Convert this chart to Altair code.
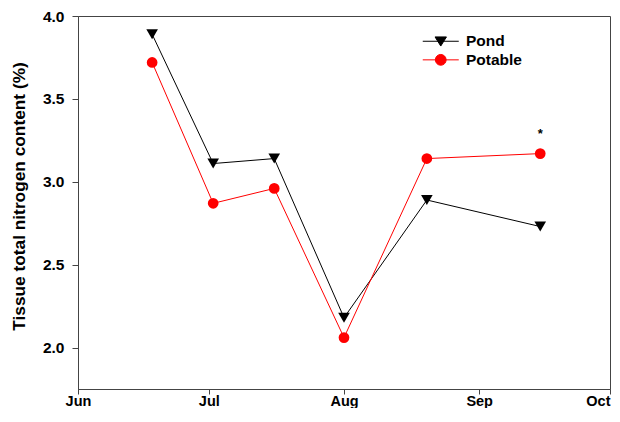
import altair as alt
import pandas as pd

# ---- data ----
dates = ["2014-06-18", "2014-07-02", "2014-07-16", "2014-08-01", "2014-08-20", "2014-09-15"]
pond = [3.89, 3.11, 3.14, 2.18, 2.89, 2.73]
potable = [3.72, 2.87, 2.96, 2.06, 3.14, 3.17]
series = ["Pond", "Potable"]
colors = ["#000000", "#ff0000"]
markers = ["triangle-down", "circle"]
marker_sizes = [135, 115]
legend_shapes = [
    "M-3,0H3M-0.95,-0.72L0.95,-0.72L0,0.8Z",
    "M-3,0H3M-0.9,0A0.9,0.9,0,1,0,0.9,0A0.9,0.9,0,1,0,-0.9,0Z",
]
y_ticks = [2.0, 2.5, 3.0, 3.5, 4.0]
y_domain = [1.75, 4.0]
annot_dates = ["2014-09-15"]
annot_values = [3.17]
annot_labels = ["*"]
y_title = "Tissue total nitrogen content (%)"

rows = []
for d, a, b in zip(dates, pond, potable):
    rows.append({"Date": d + "T00:00:00", "Series": series[0], "Value": a})
    rows.append({"Date": d + "T00:00:00", "Series": series[1], "Value": b})
df = pd.DataFrame(rows)

ann = pd.DataFrame({"Date": [d + "T00:00:00" for d in annot_dates],
                    "Value": annot_values, "Label": annot_labels})

FONT = "Liberation Sans"
month_vals = [alt.DateTime(year=2014, month=m, date=1) for m in [6, 7, 8, 9, 10]]

x_enc = alt.X(
    "Date:T",
    scale=alt.Scale(domain=[month_vals[0], month_vals[-1]]),
    axis=alt.Axis(values=month_vals, format="%b", title=None, labelPadding=0,
                  tickSize=5, labelFontSize=14.5, labelFlush=False,
                  labelAlign={"condition": {"test": "month(datum.value) == 9", "value": "right"},
                              "value": "center"}),
)
y_enc = alt.Y(
    "Value:Q",
    scale=alt.Scale(domain=y_domain, nice=False, zero=False),
    axis=alt.Axis(values=y_ticks, format=".1f", title=y_title, labelPadding=8,
                  tickSize=6, labelFontSize=15.5, labelFlush=False,
                  titleX=-50, titleY=180, titleFontSize=17.3, titleFont=FONT,
                  titleFontWeight="bold", titleColor="#000"),
)

lines = alt.Chart(df).mark_line(strokeWidth=1).encode(
    x=x_enc, y=y_enc,
    color=alt.Color("Series:N", scale=alt.Scale(domain=series, range=colors), legend=None),
)

point_layers = []
for s, c, m, sz in zip(series, colors, markers, marker_sizes):
    point_layers.append(
        alt.Chart(df).transform_filter(alt.datum.Series == s).mark_point(
            filled=True, opacity=1, shape=m, size=sz, color=c
        ).encode(x=x_enc, y=y_enc)
    )

# helper layers that only carry one legend entry each (their own marks have zero size)
legend_layers = []
for i, (s, c, p) in enumerate(zip(series, colors, legend_shapes)):
    leg = alt.Legend(
        title=None, orient="none", legendX=355, legendY=17.5 + 18.6 * i, padding=0,
        symbolSize=144, symbolStrokeWidth=1, labelFont=FONT, labelFontSize=15.5,
        labelFontWeight="bold", labelColor="#000", labelOffset=17.5,
        symbolOpacity=1,
    )
    legend_layers.append(
        alt.Chart(df).transform_filter(alt.datum.Series == s).mark_point(
            filled=True, color=c, stroke=c, strokeWidth=1, size=0
        ).encode(
            x=x_enc, y=y_enc,
            shape=alt.Shape("Series:N", scale=alt.Scale(domain=[s], range=[p]), legend=leg),
        )
    )

text = alt.Chart(ann).mark_text(dy=-20, fontSize=13, font=FONT, fontWeight="bold", color="#000").encode(
    x=alt.X("Date:T"), y=alt.Y("Value:Q"), text="Label:N"
)

chart = alt.layer(lines, *point_layers, *legend_layers, text).resolve_scale(
    shape="independent"
).resolve_legend(shape="independent").properties(
    width=532, height=373,
    autosize=alt.AutoSizeParams(type="none"),
    padding={"left": 70, "top": 8, "right": 2, "bottom": 19},
).configure_view(
    stroke="#444", strokeWidth=1
).configure_axis(
    grid=False, domainColor="#444", tickColor="#444",
    labelFont=FONT, labelFontWeight="bold", labelColor="#000",
)

chart.save("out.html", embed_options={"renderer": "svg", "actions": False})
